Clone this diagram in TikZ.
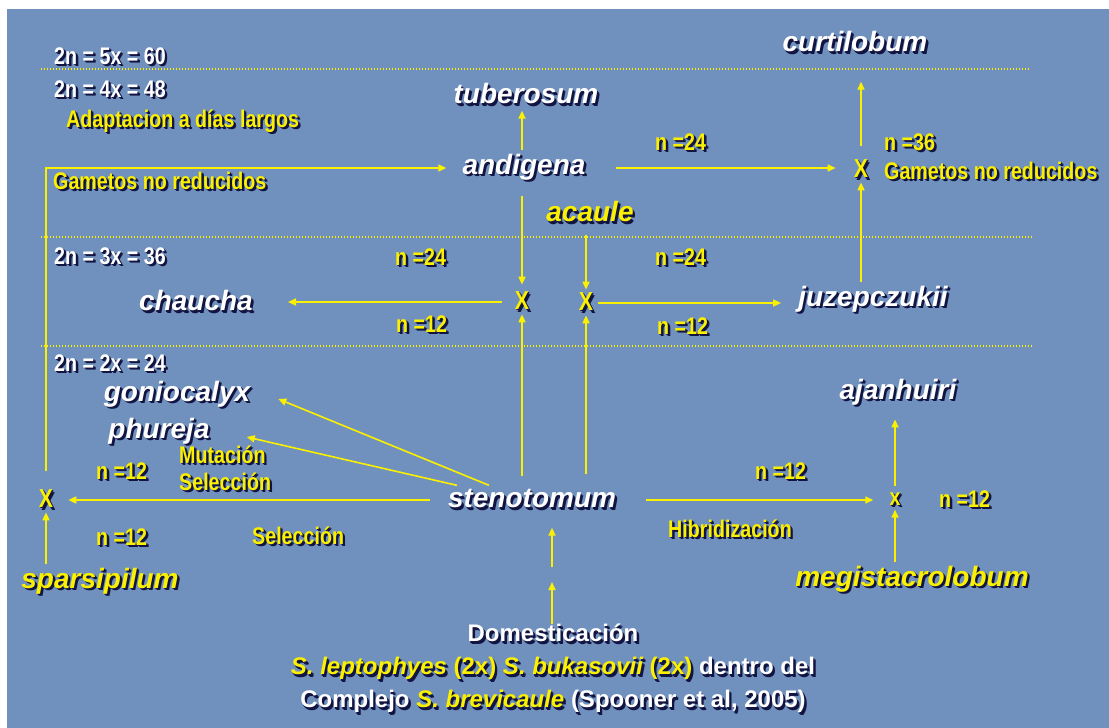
\documentclass[tikz,border=0pt]{standalone}
\usepackage{fontspec}
\setmainfont{Liberation Sans}
\newfontfamily\narrowsans{Liberation Sans}[FakeStretch=0.82]
\usetikzlibrary{arrows.meta}
\definecolor{slidebg}{RGB}{112,145,190}
\definecolor{hiyellow}{RGB}{250,240,0}
\definecolor{shadowc}{RGB}{18,20,66}
\def\ylwname{hiyellow}
\newcommand\ylw[1]{\textcolor{\ylwname}{#1}}
\newcommand\shd[1]{\makebox[0pt][l]{\kern2.4pt\raisebox{-2.4pt}{\def\ylwname{shadowc}\color{shadowc}#1}}\makebox[0pt][l]{\kern1.2pt\raisebox{-1.2pt}{\def\ylwname{shadowc}\color{shadowc}#1}}#1}

\begin{document}
\begin{tikzpicture}[x=1pt, y=-1pt,
		species/.style={font=\fontsize{28}{30}\selectfont\bfseries\itshape, text=white, inner sep=4pt},
		yspecies/.style={species, text=hiyellow},
		ploidy/.style={font=\narrowsans\fontsize{24}{26}\selectfont\bfseries, text=white, inner sep=0pt, anchor=west},
		note/.style={ploidy, text=hiyellow},
		cross/.style={font=\narrowsans\fontsize{26}{26}\selectfont\bfseries, text=hiyellow, inner sep=2pt},
		arr/.style={draw=hiyellow, line width=1.6pt, -{Triangle[length=8pt,width=7pt]}},
		ploidyline/.style={draw=hiyellow, line width=1.2pt, dash pattern=on 1.2pt off 1.8pt}]
		\useasboundingbox (0, 0) rectangle (1109, 728);
		\fill[white] (0, 0) rectangle (1109, 728);
		\fill[slidebg] (7, 9) rectangle (1109, 728);
		
		\draw[ploidyline] (41, 69) -- (1030, 69);
		\draw[ploidyline] (41, 237) -- (1034, 237);
		\draw[ploidyline] (41, 346) -- (1034, 346);
		
		\node[ploidy] (p60) at (54, 57) {\shd{2n = 5x = 60}};
		\node[ploidy] (p48) at (54, 90) {\shd{2n = 4x = 48}};
		\node[ploidy] (p36) at (54, 257) {\shd{2n = 3x = 36}};
		\node[ploidy] (p24) at (54, 364) {\shd{2n = 2x = 24}};
		
		\node[species] (curt) at (855, 43) {\shd{curtilobum}};
		\node[species] (tub) at (526, 95) {\shd{tuberosum}};
		\node[species] (andi) at (524, 168) {\shd{andigena}};
		\node[yspecies] (acau) at (590, 213) {\shd{acaule}};
		\node[species] (chau) at (196, 302) {\shd{chaucha}};
		\node[species] (juze) at (873, 300) {\shd{juzepczukii}};
		\node[species] (gonio) at (177, 395) {\shd{goniocalyx}};
		\node[species] (phur) at (159, 432) {\shd{phureja}};
		\node[species] (steno) at (532, 500) {\shd{stenotomum}};
		\node[yspecies] (spar) at (100, 582) {\shd{sparsipilum}};
		\node[species] (ajan) at (898, 393) {\shd{ajanhuiri}};
		\node[yspecies] (megi) at (912, 580) {\shd{megistacrolobum}};
		
		\node[cross] (xt) at (861, 170) {\shd{X}};
		\node[cross] (xa) at (522, 302) {\shd{X}};
		\node[cross] (xb) at (586, 303) {\shd{X}};
		\node[cross] (xl) at (46, 500) {\shd{X}};
		\node[cross, font=\narrowsans\fontsize{24}{24}\selectfont\bfseries] (xr) at (895, 500) {\shd{x}};
		
		\node[note] (adapt) at (66, 122) {\shd{Adaptacion a días largos}};
		\node[note] (gam1) at (53, 182) {\shd{Gametos no reducidos}};
		\node[note] (gam2) at (884, 172) {\shd{Gametos no reducidos}};
		\node[note] (n24b) at (655, 143) {\shd{n =24}};
		\node[note] (n36) at (884, 143) {\shd{n =36}};
		\node[note] (n24a) at (395, 258) {\shd{n =24}};
		\node[note] (n12a) at (396, 325) {\shd{n =12}};
		\node[note] (n24c) at (655, 258) {\shd{n =24}};
		\node[note] (n12b) at (657, 327) {\shd{n =12}};
		\node[note] (mut) at (179, 456) {\shd{Mutación}};
		\node[note] (sel1) at (179, 483) {\shd{Selección}};
		\node[note] (n12c) at (96, 472) {\shd{n =12}};
		\node[note] (n12d) at (96, 538) {\shd{n =12}};
		\node[note] (sel2) at (252, 537) {\shd{Selección}};
		\node[note] (n12e) at (755, 472) {\shd{n =12}};
		\node[note] (n12f) at (939, 500) {\shd{n =12}};
		\node[note] (hib) at (668, 530) {\shd{Hibridización}};
		
		\node[font=\fontsize{24}{33}\selectfont\bfseries, text=white, align=center, anchor=north, inner sep=0pt] (dom) at (553, 624)
			{\shd{Domesticación}\\
			\shd{\ylw{\itshape S. leptophyes} \ylw{(2x)} \ylw{\itshape S. bukasovii}\ \ylw{(2x)} dentro del}\\
			\shd{Complejo \ylw{\itshape S. brevicaule} (Spooner et al, 2005)}};
		\coordinate (dmid) at (552, 574.5);
		
		\draw[arr] (andi.north -| xa) -- (tub.south -| xa);
		\draw[arr, shorten <=17pt, shorten >=12pt] (xl.north) -- (xl.north |- andi.west) -- (andi.west);
		\draw[arr, shorten <=10pt, shorten >=5pt] (andi.south -| xa) -- (xa.north);
		\draw[arr, shorten <=11pt, shorten >=31pt] (xa.west) -- (chau.east);
		\draw[arr, shorten <=9pt] (steno.north -| xa) -- (xa.south);
		\draw[arr, shorten <=6pt, shorten >=1pt] (acau.south -| xb) -- (xb.north);
		\draw[arr, shorten <=11pt] (steno.north -| xb) -- (xb.south);
		\draw[arr, shorten <=3pt, shorten >=13pt] (xb.east) -- (xb.east -| juze.west);
		\draw[arr] (juze.north -| xt) -- (xt.south);
		\draw[arr, shorten <=12pt, shorten >=23pt] (xt.north) -- (curt.south -| xt);
		\draw[arr, shorten <=26pt, shorten >=16pt] (andi.east) -- (andi.east -| xt.west);
		\draw[arr] ([xshift=-43pt]steno.north) -- ([shift={(24,4)}]gonio.east);
		\draw[arr] ([xshift=-75pt]steno.north) -- ([shift={(33,5)}]phur.east);
		\draw[arr, shorten <=14pt, shorten >=13pt] (steno.west) -- (xl.east);
		\draw[arr] (spar.north -| xl) -- (xl.south);
		\draw[arr, shorten <=26pt, shorten >=14pt] (steno.east) -- (xr.west);
		\draw[arr] (megi.north -| xr) -- (xr.south);
		\draw[arr, shorten <=4pt, shorten >=8pt] (xr.north) -- (ajan.south -| xr);
		\draw[arr, shorten >=7.5pt] (dom.north -| dmid) -- (dmid);
		\draw[arr, shorten <=7.5pt, shorten >=13pt] (dmid) -- (steno.south -| dmid);
	\end{tikzpicture}
\end{document}
